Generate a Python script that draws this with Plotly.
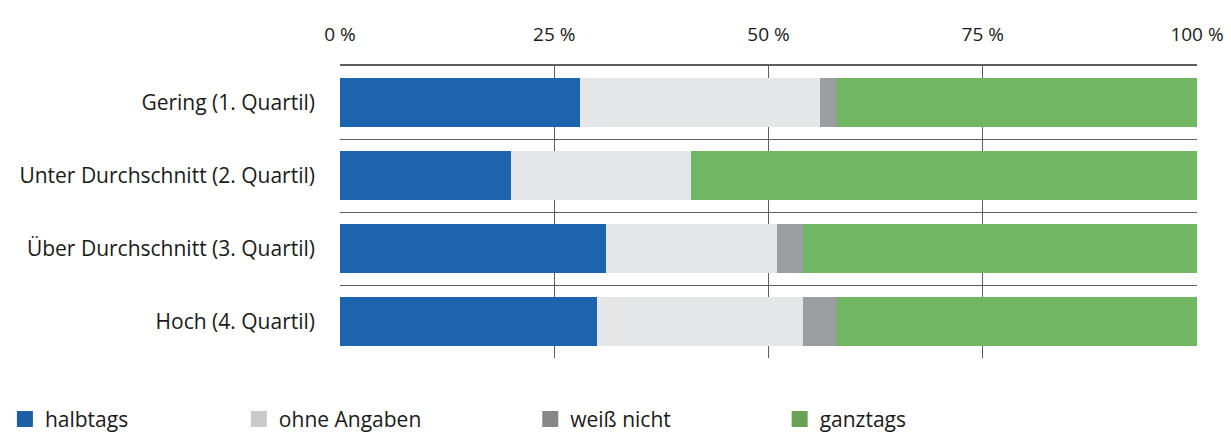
import plotly.graph_objects as go

# Einkommensgruppen (von oben nach unten)
categories = [
    "Gering (1. Quartil)",
    "Unter Durchschnitt (2. Quartil)",
    "Über Durchschnitt (3. Quartil)",
    "Hoch (4. Quartil)",
]

# Anteile in Prozent je Gruppe
halbtags = [28, 20, 31, 30]
ohne_angaben = [28, 21, 20, 24]
weiss_nicht = [2, 0, 3, 4]
ganztags = [42, 59, 46, 42]

series_names = ["halbtags", "ohne Angaben", "weiß nicht", "ganztags"]
series_values = [halbtags, ohne_angaben, weiss_nicht, ganztags]
bar_colors = ["#1d64ae", "#e4e6e8", "#9b9d9f", "#70b663"]
legend_colors = ["#1d5fa5", "#c9c9c9", "#878787", "#69a257"]

tick_values = [0, 25, 50, 75, 100]
tick_labels = ["0 %", "25 %", "50 %", "75 %", "100 %"]

FONT = "Open Sans"
GRID = "#5e5e5e"

fig = go.Figure()

for name, vals, col in zip(series_names, series_values, bar_colors):
    fig.add_trace(go.Bar(
        y=categories, x=vals, name=name, orientation="h",
        marker=dict(color=col, line=dict(width=0)),
        showlegend=False,
    ))

# legend entries, each in its own legend box
legend_x = [-0.391, -0.118, 0.222, 0.513]
for i, (name, col) in enumerate(zip(series_names, legend_colors)):
    key = "legend" if i == 0 else f"legend{i + 1}"
    fig.add_trace(go.Scatter(
        x=[None], y=[None], mode="markers", name=name,
        marker=dict(symbol="square", size=17, color=col),
        legend=key, showlegend=True,
    ))
    fig.update_layout({key: dict(
        x=legend_x[i], y=-0.21, xanchor="left", yanchor="middle",
        orientation="h", itemwidth=30, bgcolor="rgba(0,0,0,0)",
        font=dict(family=FONT, size=21, color="#1a1a1a"),
        tracegroupgap=0,
    )})

fig.update_layout(
    barmode="stack",
    bargap=0.34,
    width=1231, height=439,
    margin=dict(l=340, r=34, t=66, b=81, autoexpand=False),
    paper_bgcolor="white", plot_bgcolor="white",
    font=dict(family=FONT, size=21, color="#1a1a1a"),
    xaxis=dict(
        side="top", range=[0, 100],
        tickmode="array", tickvals=tick_values, ticktext=tick_labels,
        showgrid=True, gridcolor=GRID, gridwidth=1.3,
        showline=True, linecolor=GRID, linewidth=1.6,
        zeroline=False, ticks="", ticklabelstandoff=16,
        tickfont=dict(family=FONT, size=19, color="#1a1a1a"),
    ),
    yaxis=dict(
        autorange="reversed", zeroline=False,
        showgrid=True, gridcolor=GRID, gridwidth=1.2, tickson="boundaries",
        ticks="", ticklabelstandoff=24,
        tickfont=dict(family=FONT, size=21, color="#1a1a1a"),
    ),
)

fig.write_html("out.html")
